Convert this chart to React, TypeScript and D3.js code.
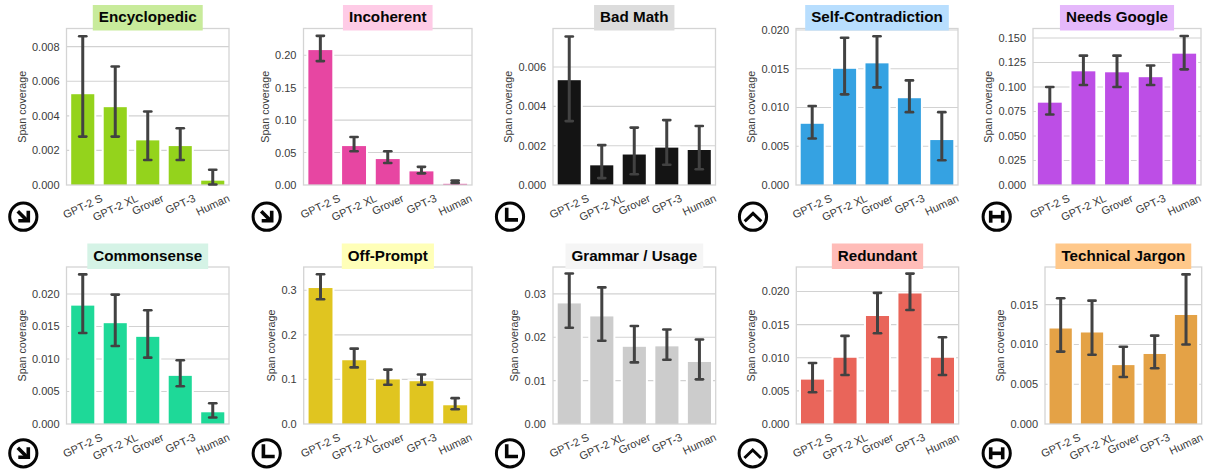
import React, { useEffect, useRef } from "react";
import * as d3 from "d3";

const models = ["GPT-2 S", "GPT-2 XL", "Grover", "GPT-3", "Human"];

const titles = [
  "Encyclopedic", "Incoherent", "Bad Math", "Self-Contradiction", "Needs Google",
  "Commonsense", "Off-Prompt", "Grammar / Usage", "Redundant", "Technical Jargon",
];
const barColors = [
  "#94d31c", "#e746a2", "#141414", "#35a2e2", "#bd4ee6",
  "#1ed998", "#e0c520", "#cccccc", "#e9655a", "#e4a246",
];
const titleColors = [
  "#c8eb9b", "#fecbe6", "#dcdcdc", "#b8defe", "#e5b8fb",
  "#d5f3e6", "#ffffb8", "#f5f5f5", "#ffbcb8", "#ffc88a",
];
const icons = ["arrow", "arrow", "ell", "chevron", "aitch", "arrow", "ell", "ell", "chevron", "aitch"];

const means = [
  [0.00525, 0.0045, 0.00258, 0.00225, 0.00025],
  [0.208, 0.06, 0.04, 0.021, 0.0018],
  [0.00533, 0.001, 0.00155, 0.0019, 0.00178],
  [0.0079, 0.015, 0.0157, 0.0112, 0.0058],
  [0.084, 0.116, 0.115, 0.11, 0.134],
  [0.0182, 0.0155, 0.0134, 0.0074, 0.0018],
  [0.305, 0.143, 0.1, 0.096, 0.042],
  [0.0278, 0.0248, 0.0178, 0.0179, 0.0143],
  [0.0067, 0.01, 0.0163, 0.0197, 0.01],
  [0.012, 0.0115, 0.0074, 0.0088, 0.0137],
];
const lows = [
  [0.0028, 0.0028, 0.00145, 0.00145, 0.00003],
  [0.191, 0.052, 0.034, 0.018, 0.003],
  [0.00325, 0.00035, 0.00055, 0.00103, 0.0008],
  [0.006, 0.0117, 0.0126, 0.0094, 0.0032],
  [0.072, 0.102, 0.1, 0.102, 0.118],
  [0.014, 0.012, 0.0102, 0.0058, 0.001],
  [0.28, 0.127, 0.088, 0.088, 0.033],
  [0.0222, 0.0192, 0.0142, 0.0148, 0.0103],
  [0.0048, 0.0074, 0.0137, 0.0172, 0.0074],
  [0.0091, 0.0087, 0.0059, 0.007, 0.01],
];
const highs = [
  [0.0086, 0.00685, 0.00425, 0.00328, 0.00088],
  [0.23, 0.074, 0.052, 0.028, 0.0068],
  [0.00755, 0.00203, 0.00292, 0.0033, 0.003],
  [0.0102, 0.019, 0.0192, 0.0135, 0.0094],
  [0.1, 0.132, 0.132, 0.122, 0.152],
  [0.023, 0.0199, 0.0175, 0.0098, 0.0032],
  [0.336, 0.169, 0.122, 0.111, 0.058],
  [0.0347, 0.0315, 0.0226, 0.0218, 0.0195],
  [0.0092, 0.0133, 0.0198, 0.0227, 0.0131],
  [0.0158, 0.0155, 0.0097, 0.0111, 0.0188],
];

const yMaxes = [0.00905, 0.2413, 0.00796, 0.0202, 0.1597, 0.02414, 0.3522, 0.0362, 0.0237, 0.01973];
const yTicks = [
  [0, 0.002, 0.004, 0.006, 0.008],
  [0, 0.05, 0.1, 0.15, 0.2],
  [0, 0.002, 0.004, 0.006],
  [0, 0.005, 0.01, 0.015, 0.02],
  [0, 0.025, 0.05, 0.075, 0.1, 0.125, 0.15],
  [0, 0.005, 0.01, 0.015, 0.02],
  [0, 0.1, 0.2, 0.3],
  [0, 0.01, 0.02, 0.03],
  [0, 0.005, 0.01, 0.015, 0.02],
  [0, 0.005, 0.01, 0.015],
];
const tickFormats = [".3f", ".2f", ".3f", ".3f", ".3f", ".3f", ".1f", ".2f", ".3f", ".3f"];

// plot frames: [left, right], one pair per chart
const frames = [
  [66.5, 229], [303.5, 472], [553, 715.5], [796, 958], [1033, 1201],
  [66.5, 229], [303.7, 472], [553, 715.7], [796.3, 958.7], [1045, 1201.7],
];
const iconX = [23.3, 266.7, 510, 753, 996.7, 23.3, 266.7, 510, 752.7, 996.7];
const rowTop = [28.5, 267];
const rowBottom = [185, 424];
const iconY = [216.7, 453.3];

const font = "'Liberation Sans', Arial, sans-serif";
const tickWidths: Record<string, number> = { ".3f": 27.5, ".2f": 21.4, ".1f": 15.3 };

const drawIcon = (svg: any, kind: string, cx: number, cy: number) => {
  const g = svg.append("g").attr("transform", `translate(${cx},${cy})`);
  g.append("circle").attr("r", 13.6).attr("fill", "#fff").attr("stroke", "#050505").attr("stroke-width", 3);
  const glyphs: Record<string, string[]> = {
    arrow: ["M-5.5,-5.5L4,4", "M-5,4H5V-6"],
    ell: ["M-3.3,-9V3.2H8"],
    chevron: ["M-8.3,4.7L0,-3.3L8.3,4.7"],
    aitch: ["M-6,-6V6", "M6,-6V6", "M-6,0H6"],
  };
  glyphs[kind].forEach((d) => {
    g.append("path")
      .attr("d", d)
      .attr("fill", "none")
      .attr("stroke", "#050505")
      .attr("stroke-width", kind === "chevron" ? 3 : 3.6)
      .attr("stroke-linejoin", "miter");
  });
};

export default function App() {
  const svgRef = useRef<SVGSVGElement | null>(null);

  useEffect(() => {
    const svg = d3.select(svgRef.current);
    svg.selectAll("*").remove();

    titles.forEach((title, i) => {
      const row = i < 5 ? 0 : 1;
      const [left, right] = frames[i];
      const top = rowTop[row];
      const bottom = rowBottom[row];

      const x = d3.scaleBand<string>().domain(models).range([left, right]).paddingInner(0.29).paddingOuter(0.145);
      const y = d3.scaleLinear().domain([0, yMaxes[i]]).range([bottom, top]);
      const g = svg.append("g");

      // grid first, bars sit on top with a white edge that breaks the lines
      g.selectAll(".grid")
        .data(yTicks[i].slice(1))
        .join("line")
        .attr("x1", left)
        .attr("x2", right)
        .attr("y1", (d) => y(d))
        .attr("y2", (d) => y(d))
        .attr("stroke", "#d2d2d2")
        .attr("stroke-width", 1.1);

      g.selectAll(".bar")
        .data(means[i])
        .join("rect")
        .attr("x", (_, k) => x(models[k])!)
        .attr("y", (d) => y(d))
        .attr("width", x.bandwidth())
        .attr("height", (d) => bottom - y(d))
        .attr("fill", barColors[i])
        .attr("stroke", "#fff")
        .attr("stroke-width", 4)
        .style("paint-order", "stroke");

      g.append("rect")
        .attr("x", left)
        .attr("y", top)
        .attr("width", right - left)
        .attr("height", bottom - top)
        .attr("fill", "none")
        .attr("stroke", "#d4d4d4")
        .attr("stroke-width", 1.3);

      models.forEach((m, k) => {
        const cx = x(m)! + x.bandwidth() / 2;
        const err = g.append("g").attr("stroke", "#424242").attr("fill", "none");
        err.append("line")
          .attr("x1", cx).attr("x2", cx)
          .attr("y1", y(lows[i][k])).attr("y2", y(highs[i][k]))
          .attr("stroke-width", 3);
        [lows[i][k], highs[i][k]].forEach((v) => {
          err.append("line")
            .attr("x1", cx - 3.6).attr("x2", cx + 3.6)
            .attr("y1", y(v)).attr("y2", y(v))
            .attr("stroke-width", 2.6)
            .attr("stroke-linecap", "round");
        });
      });

      const fmt = d3.format(tickFormats[i]);
      g.selectAll(".ytick")
        .data(yTicks[i])
        .join("text")
        .attr("x", left - 7)
        .attr("y", (d) => y(d))
        .attr("dy", "0.36em")
        .attr("text-anchor", "end")
        .style("font-family", font)
        .style("font-size", "11px")
        .style("fill", "#3a3a3a")
        .text((d) => fmt(d));

      // y label sits just left of the widest tick label
      const yLabelX = left - 7 - tickWidths[tickFormats[i]] - 6.5;
      g.append("text")
        .attr("transform", `translate(${yLabelX},${(top + bottom) / 2}) rotate(-90)`)
        .attr("text-anchor", "middle")
        .style("font-family", font)
        .style("font-size", "10.7px")
        .style("fill", "#3a3a3a")
        .text("Span coverage");

      models.forEach((m) => {
        const cx = x(m)! + x.bandwidth() / 2;
        const label = g.append("text")
          .attr("text-anchor", "middle")
          .attr("dy", "0.35em")
          .style("font-family", font)
          .style("font-size", "11px")
          .style("fill", "#3a3a3a")
          .text(m);
        const box = (label.node() as SVGTextElement).getBBox();
        const angle = (25 * Math.PI) / 180;
        const rotH = box.width * Math.sin(angle) + box.height * Math.cos(angle);
        label.attr("transform", `translate(${cx},${bottom + 7 + rotH / 2}) rotate(-25)`);
      });

      const titleText = g.append("text")
        .attr("x", (left + right) / 2)
        .attr("y", top - 6.5)
        .attr("text-anchor", "middle")
        .style("font-family", font)
        .style("font-size", "15.2px")
        .style("font-weight", "bold")
        .style("fill", "#050505")
        .text(title);
      const tw = (titleText.node() as SVGTextElement).getComputedTextLength();
      g.insert("rect", () => titleText.node())
        .attr("x", (left + right) / 2 - tw / 2 - 6)
        .attr("y", top - 23.5)
        .attr("width", tw + 12)
        .attr("height", 25.5)
        .attr("fill", titleColors[i]);

      drawIcon(svg, icons[i], iconX[i], iconY[row]);
    });
  }, []);

  return (
    <svg
      ref={svgRef}
      width={1210}
      height={475}
      style={{ position: "absolute", left: 0, top: 0, background: "#fff" }}
    />
  );
}
